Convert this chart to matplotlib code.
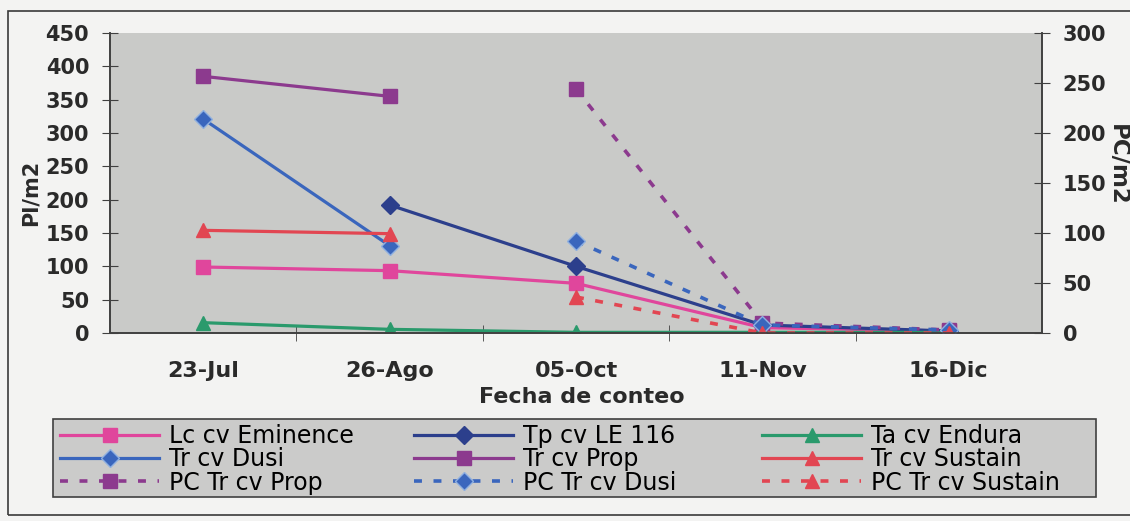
import numpy as np
import matplotlib.pyplot as plt
from matplotlib.patches import Rectangle

# Count dates (category axis)
fechas = ['23-Jul', '26-Ago', '05-Oct', '11-Nov', '16-Dic']

# Plants per m2 (left axis)
lc_eminence = [99, 93.5, 74.5, 8, 3]
tp_le116 = [np.nan, 192, 100, 12, 3]
ta_endura = [15.5, 5.5, 1, 1, 1]
tr_dusi = [321, 131, np.nan, np.nan, np.nan]
tr_prop = [385, 355, np.nan, np.nan, np.nan]
tr_sustain = [154, 149, np.nan, np.nan, np.nan]

# PC per m2 (right axis)
pc_prop = [np.nan, np.nan, 244, 10, 3]
pc_dusi = [np.nan, np.nan, 92, 8, 3]
pc_sustain = [np.nan, np.nan, 36, 0, 0]

x = np.arange(len(fechas))

fig = plt.figure(figsize=(11.3, 5.21), dpi=100, facecolor='#f3f3f2')
ax = fig.add_axes([110 / 1130, 1 - 333 / 521, 932 / 1130, 300 / 521])
ax.set_facecolor('#c9cac8')
ax2 = ax.twinx()

# outer chart frame and legend box
fig.patches.append(Rectangle((8 / 1130, 1 - 515 / 521), 1.2, 504 / 521,
                             transform=fig.transFigure, fill=False,
                             edgecolor='#3a3a3a', linewidth=1.2, zorder=0))
fig.patches.append(Rectangle((53 / 1130, 1 - 497 / 521), 1043 / 1130, 78 / 521,
                             transform=fig.transFigure, facecolor='#cbcbca',
                             edgecolor='#404040', linewidth=1.2, zorder=0))

lw = 2.3
ms = 10
l1, = ax.plot(x, lc_eminence, color='#e0469c', marker='s', ms=ms, lw=lw, label='Lc cv Eminence')
l2, = ax.plot(x, tp_le116, color='#2c3f8c', marker='D', ms=ms - 1, lw=lw, label='Tp cv LE 116')
l3, = ax.plot(x, ta_endura, color='#2a9a6c', marker='^', ms=ms, lw=lw, label='Ta cv Endura')
l4, = ax.plot(x, tr_dusi, color='#3a66bd', marker='D', ms=ms - 1, mec='#8fb0e0', lw=lw, label='Tr cv Dusi')
l5, = ax.plot(x, tr_prop, color='#8c3a8e', marker='s', ms=ms, lw=lw, label='Tr cv Prop')
l6, = ax.plot(x, tr_sustain, color='#e24652', marker='^', ms=ms, lw=lw, label='Tr cv Sustain')

dash = (0, (2.2, 3.2))
l7, = ax2.plot(x, pc_prop, color='#8c3a8e', marker='s', ms=ms, lw=2.6, ls=dash, label='PC Tr cv Prop')
l8, = ax2.plot(x, pc_dusi, color='#3a66bd', marker='D', ms=ms - 1, mec='#8fb0e0', lw=2.6, ls=dash, label='PC Tr cv Dusi')
l9, = ax2.plot(x, pc_sustain, color='#e24652', marker='^', ms=ms, lw=2.6, ls=dash, label='PC Tr cv Sustain')

ax.set_xlim(-0.5, len(fechas) - 0.5)
ax.set_ylim(0, 450)
ax2.set_ylim(0, 300)
ax.set_yticks(range(0, 451, 50))
ax2.set_yticks(range(0, 301, 50))

ax.set_xticks(x)
ax.set_xticklabels(fechas, fontsize=16, fontweight='bold', color='#2a2a2a')
ax.set_xticks(x[:-1] + 0.5, minor=True)
ax.tick_params(axis='x', which='major', length=0, pad=20)
ax.tick_params(axis='x', which='minor', direction='inout', length=11, color='#404040')
ax.tick_params(axis='y', direction='inout', length=12, pad=9, color='#404040',
               labelsize=15, labelcolor='#2a2a2a')
ax2.tick_params(axis='y', direction='inout', length=12, pad=9, color='#404040',
                labelsize=15, labelcolor='#2a2a2a')
for lab in ax.get_yticklabels() + ax2.get_yticklabels():
    lab.set_fontweight('bold')

for a in (ax, ax2):
    a.spines['top'].set_visible(False)
    for s in ('left', 'right', 'bottom'):
        a.spines[s].set_color('#404040')
        a.spines[s].set_linewidth(1.2)

ax.set_xlabel('Fecha de conteo', fontsize=16, fontweight='bold', color='#2a2a2a')
ax.xaxis.set_label_coords(0.506, -0.18)
ax.set_ylabel('Pl/m2', fontsize=15, fontweight='bold', color='#2a2a2a')
ax.yaxis.set_label_coords(-0.085, 0.467)
ax.yaxis.label.set_va('center')
ax2.set_ylabel('PC/m2', fontsize=16.5, fontweight='bold', color='#2a2a2a', rotation=-90)
ax2.yaxis.set_label_coords(1.0805, 0.56)
ax2.yaxis.label.set_va('center')

# legend: three columns placed like the boxed key under the chart
columns = [(l1, l4, l7), (l2, l5, l8), (l3, l6, l9)]
col_x = [60, 414, 762]
for handles, cx in zip(columns, col_x):
    fig.legend(handles=handles, loc='upper left',
               bbox_to_anchor=(cx / 1130, 1 - 424 / 521),
               frameon=False, fontsize=17, handlelength=4.2, handletextpad=0.4,
               labelspacing=-0.03, borderpad=0, borderaxespad=0)

fig.savefig('out.png', dpi=100, facecolor=fig.get_facecolor())
